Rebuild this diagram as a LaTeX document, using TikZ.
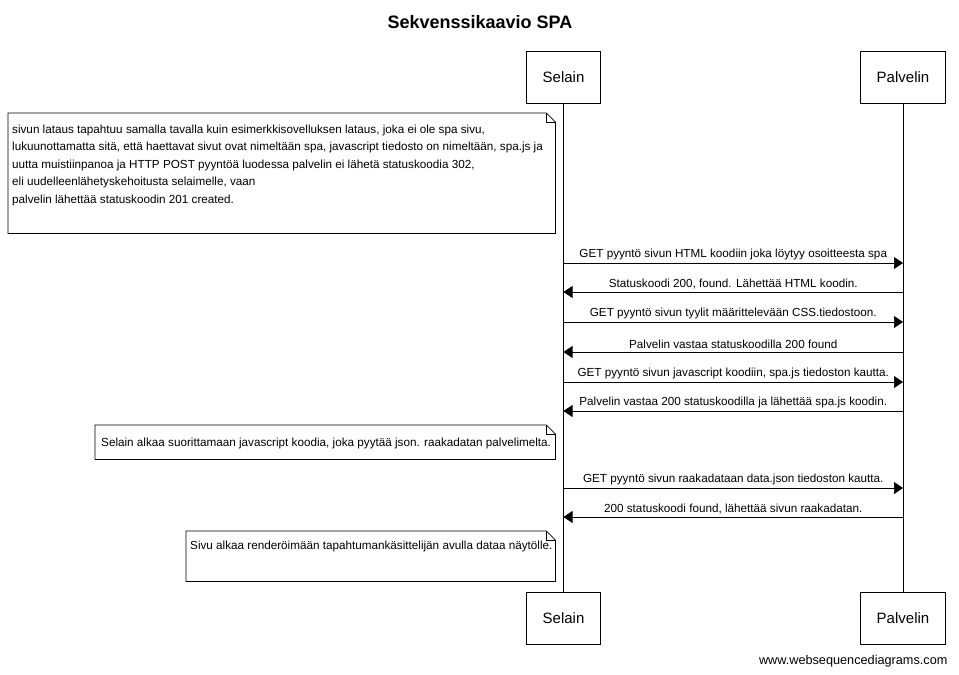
\documentclass[tikz,border=0pt]{standalone}
\usepackage{fontspec}
\setmainfont{Liberation Sans}
\usetikzlibrary{arrows.meta}

\tikzset{
 actor/.style={draw, line width=0.7pt, inner xsep=16pt, minimum height=52pt,
  font=\fontsize{15}{18}\selectfont},
 msg/.style={-{Triangle[length=9pt,width=12pt]}, line width=0.7pt},
 msgtext/.style={font=\fontsize{11.7}{14}\selectfont, inner sep=3pt},
 note/.style={inner sep=0pt},
 notetext/.style={font=\fontsize{11.7}{17.5}\selectfont, align=left, inner sep=0pt, anchor=north west},
}

\begin{document}
\begin{tikzpicture}[x=1pt, y=-1pt]

\useasboundingbox (0,0) rectangle (959,675);

% title
\node[font=\bfseries\fontsize{18}{21}\selectfont] (title) at (480,22) {Sekvenssikaavio SPA};

% participants, top and bottom
\node[actor] (selain) at (563.5,77) {Selain};
\node[actor] (palvelin) at (903,77) {Palvelin};
\node[actor] (selainB) at (563.5,618.5) {Selain};
\node[actor] (palvelinB) at (903,618.5) {Palvelin};

% lifelines
\draw[line width=0.7pt] (selain) -- (selainB);
\draw[line width=0.7pt] (palvelin) -- (palvelinB);

% notes
\node[note, minimum width=547pt, minimum height=120pt, anchor=north west] (note1) at (8,113) {};
\node[note, minimum width=460pt, minimum height=34pt, anchor=north west] (note2) at (95,425) {};
\node[note, minimum width=369pt, minimum height=50pt, anchor=north west] (note3) at (186,531) {};

 \foreach \nt in {note1, note2, note3}
  {
  \draw[line width=0.7pt, fill=white]
   (\nt.south west) -- (\nt.north west) -- ([xshift=-9pt]\nt.north east)
   -- ([yshift=-9pt]\nt.north east) -- (\nt.south east) -- cycle;
  \draw[line width=0.7pt]
   ([xshift=-9pt]\nt.north east) -- ([xshift=-9pt, yshift=-9pt]\nt.north east)
   -- ([yshift=-9pt]\nt.north east);
  }

\node[notetext] (txt1) at ([xshift=4pt, yshift=-11.8pt]note1.north west)
 {sivun lataus tapahtuu samalla tavalla kuin esimerkkisovelluksen lataus, joka ei ole spa sivu,\\
  lukuunottamatta sitä, että haettavat sivut ovat nimeltään spa, javascript tiedosto on nimeltään, spa.js ja\\
  uutta muistiinpanoa ja HTTP POST pyyntöä luodessa palvelin ei lähetä statuskoodia 302,\\
  eli uudelleenlähetyskehoitusta selaimelle, vaan\\
  palvelin lähettää statuskoodin 201 created.};
\node[notetext] (txt2) at ([xshift=6pt, yshift=-12.8pt]note2.north west)
 {Selain alkaa suorittamaan javascript koodia, joka pyytää json. raakadatan palvelimelta.};
\node[notetext] (txt3) at ([xshift=4pt, yshift=-10pt]note3.north west)
 {Sivu alkaa renderöimään tapahtumankäsittelijän avulla dataa näytölle.};

% requests, Selain to Palvelin
 \foreach \n/\y/\txt in {1/263/{GET pyyntö sivun HTML koodiin joka löytyy osoitteesta spa},
  3/322/{GET pyyntö sivun tyylit määrittelevään CSS.tiedostoon.},
  5/382/{GET pyyntö sivun javascript koodiin, spa.js tiedoston kautta.},
  7/488/{GET pyyntö sivun raakadataan data.json tiedoston kautta.}}
  {
  \coordinate (s\n) at (selain |- 0,\y);
  \coordinate (p\n) at (palvelin |- 0,\y);
  \draw[msg] (s\n) -- (p\n) node[msgtext, midway, above] {\txt};
  }
% responses, Palvelin to Selain
 \foreach \n/\y/\txt in {2/292/{Statuskoodi 200, found. Lähettää HTML koodin.},
  4/352/{Palvelin vastaa statuskoodilla 200 found},
  6/411/{Palvelin vastaa 200 statuskoodilla ja lähettää spa.js koodin.},
  8/517/{200 statuskoodi found, lähettää sivun raakadatan.}}
  {
  \coordinate (s\n) at (selain |- 0,\y);
  \coordinate (p\n) at (palvelin |- 0,\y);
  \draw[msg] (p\n) -- (s\n) node[msgtext, midway, above] {\txt};
  }

% footer
\node[anchor=east, font=\fontsize{12.7}{14}\selectfont] (footer) at (951,661) {www.websequencediagrams.com};

\end{tikzpicture}
\end{document}
